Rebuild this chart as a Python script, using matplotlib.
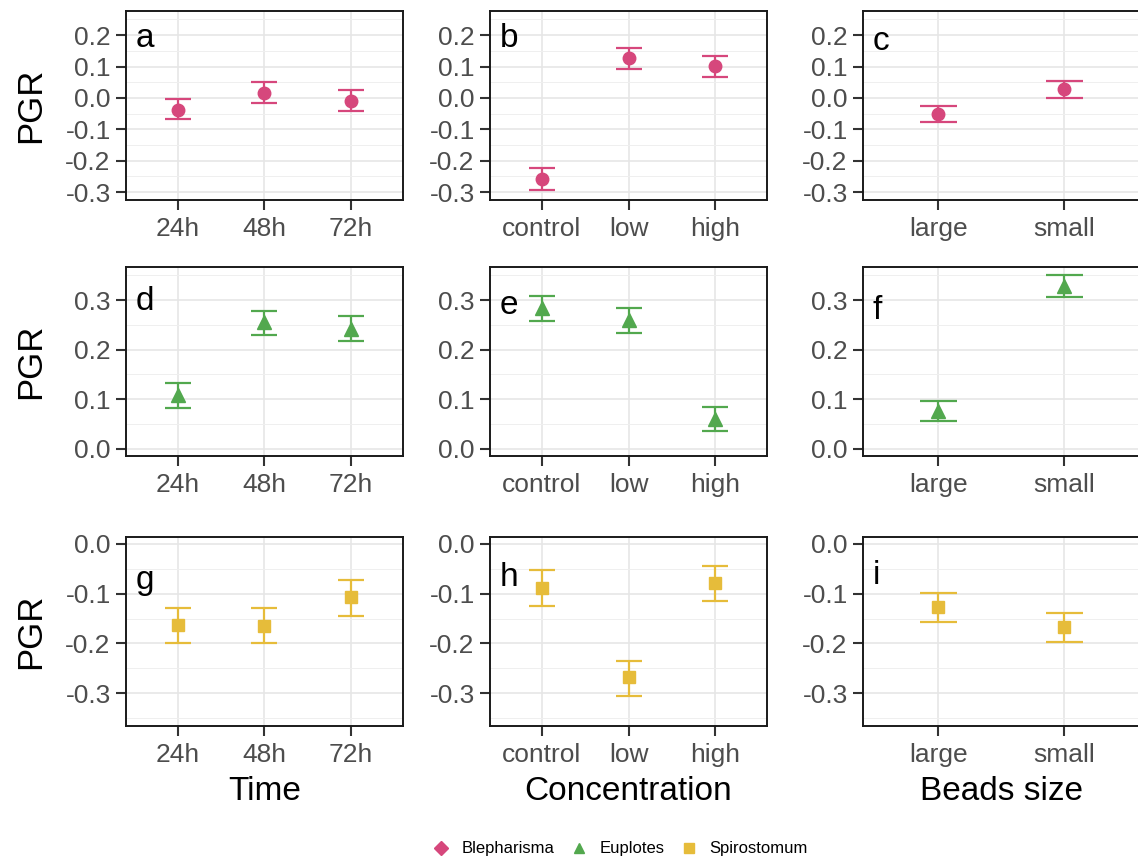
import numpy as np
import matplotlib.pyplot as plt
from matplotlib.lines import Line2D

plt.rcParams['font.family'] = ['Liberation Sans', 'DejaVu Sans']
plt.rcParams['axes.unicode_minus'] = False

time_levels = ['24h', '48h', '72h']
conc_levels = ['control', 'low', 'high']
size_levels = ['large', 'small']

# mean PGR with lower / upper error limits
bleph_time = [-0.037, 0.016, -0.010]
bleph_time_lo = [-0.067, -0.016, -0.042]
bleph_time_hi = [-0.004, 0.050, 0.024]
bleph_conc = [-0.259, 0.128, 0.102]
bleph_conc_lo = [-0.294, 0.093, 0.067]
bleph_conc_hi = [-0.224, 0.160, 0.134]
bleph_size = [-0.050, 0.028]
bleph_size_lo = [-0.075, 0.000]
bleph_size_hi = [-0.025, 0.055]

eupl_time = [0.109, 0.255, 0.241]
eupl_time_lo = [0.081, 0.229, 0.217]
eupl_time_hi = [0.132, 0.279, 0.267]
eupl_conc = [0.284, 0.259, 0.059]
eupl_conc_lo = [0.258, 0.233, 0.035]
eupl_conc_hi = [0.308, 0.284, 0.084]
eupl_size = [0.076, 0.328]
eupl_size_lo = [0.055, 0.306]
eupl_size_hi = [0.096, 0.351]

spiro_time = [-0.162, -0.164, -0.107]
spiro_time_lo = [-0.199, -0.199, -0.144]
spiro_time_hi = [-0.128, -0.128, -0.073]
spiro_conc = [-0.088, -0.267, -0.079]
spiro_conc_lo = [-0.125, -0.306, -0.115]
spiro_conc_hi = [-0.053, -0.235, -0.045]
spiro_size = [-0.127, -0.167]
spiro_size_lo = [-0.157, -0.197]
spiro_size_hi = [-0.099, -0.139]

species = ['Blepharisma', 'Euplotes', 'Spirostomum']
colors = ['#D6477C', '#52A84E', '#E6BC3A']
markers = ['o', '^', 's']
msizes = [9, 10, 9]

rows = [
    [(time_levels, bleph_time, bleph_time_lo, bleph_time_hi),
     (conc_levels, bleph_conc, bleph_conc_lo, bleph_conc_hi),
     (size_levels, bleph_size, bleph_size_lo, bleph_size_hi)],
    [(time_levels, eupl_time, eupl_time_lo, eupl_time_hi),
     (conc_levels, eupl_conc, eupl_conc_lo, eupl_conc_hi),
     (size_levels, eupl_size, eupl_size_lo, eupl_size_hi)],
    [(time_levels, spiro_time, spiro_time_lo, spiro_time_hi),
     (conc_levels, spiro_conc, spiro_conc_lo, spiro_conc_hi),
     (size_levels, spiro_size, spiro_size_lo, spiro_size_hi)],
]
row_ylim = [(-0.325, 0.277), (-0.015, 0.367), (-0.366, 0.014)]
row_major = [np.arange(-0.3, 0.21, 0.1), np.arange(0.0, 0.31, 0.1), np.arange(-0.3, 0.01, 0.1)]
row_minor = [np.arange(-0.25, 0.26, 0.1), np.arange(0.05, 0.36, 0.1), np.arange(-0.35, -0.04, 0.1)]
letters = [['a', 'b', 'c'], ['d', 'e', 'f'], ['g', 'h', 'i']]
letter_y = [[0.19, 0.19, 0.18], [0.297, 0.29, 0.28], [-0.073, -0.068, -0.063]]
xlabels = ['Time', 'Concentration', 'Beads size']

fig = plt.figure(figsize=(11.38, 8.61), dpi=100)
col_left = [0.1107, 0.4306, 0.7583]
row_bottom = [0.7677, 0.4704, 0.1568]
w, h = 0.2434, 0.2195

for r in range(3):
    for c in range(3):
        ax = fig.add_axes([col_left[c], row_bottom[r], w, h])
        levels, mean, lo, hi = rows[r][c]
        x = np.arange(len(levels))
        col = colors[r]
        ax.vlines(x, lo, hi, color=col, lw=1.6, zorder=3)
        ax.hlines(lo, x - 0.15, x + 0.15, color=col, lw=1.6, zorder=3)
        ax.hlines(hi, x - 0.15, x + 0.15, color=col, lw=1.6, zorder=3)
        ax.plot(x, mean, ls='none', marker=markers[r], ms=msizes[r],
                color=col, zorder=4)

        ax.set_xlim(-0.6, len(levels) - 0.4)
        ax.set_ylim(*row_ylim[r])
        ax.set_xticks(x)
        ax.set_xticklabels(levels)
        ax.set_yticks(row_major[r])
        ax.set_yticklabels(['%.1f' % v for v in row_major[r]])
        ax.set_yticks(row_minor[r], minor=True)
        ax.grid(which='major', color='#E6E6E6', lw=1.2)
        ax.grid(which='minor', axis='y', color='#EFEFEF', lw=0.7)
        ax.set_axisbelow(True)
        ax.tick_params(which='major', length=7, width=1.5, color='#333333',
                       labelcolor='#4D4D4D', labelsize=19, pad=4)
        ax.tick_params(axis='x', pad=5)
        ax.tick_params(which='minor', length=0)
        for sp in ax.spines.values():
            sp.set_color('#1A1A1A')
            sp.set_linewidth(1.4)

        ax.text(0.035, letter_y[r][c], letters[r][c], transform=ax.get_yaxis_transform(),
                ha='left', va='center', fontsize=24, color='black')

        if c == 0:
            ax.set_ylabel('PGR', fontsize=25)
            ax.yaxis.label.set_va('center')
            ax.yaxis.set_label_coords(-0.345, 0.5)
        if r == 2:
            ax.set_xlabel(xlabels[c], fontsize=24)
            ax.xaxis.label.set_va('center')
            ax.xaxis.set_label_coords(0.5, -0.345)

handles = [Line2D([], [], ls='none', marker=m, ms=7, color=cl)
           for m, cl in zip(['D', '^', 's'], colors)]
fig.legend(handles, species, loc='center', bbox_to_anchor=(0.545, 0.014), ncol=3,
           frameon=False, fontsize=12, handlelength=1, handletextpad=0.7,
           columnspacing=1.0)

fig.savefig('out.png', dpi=100)
